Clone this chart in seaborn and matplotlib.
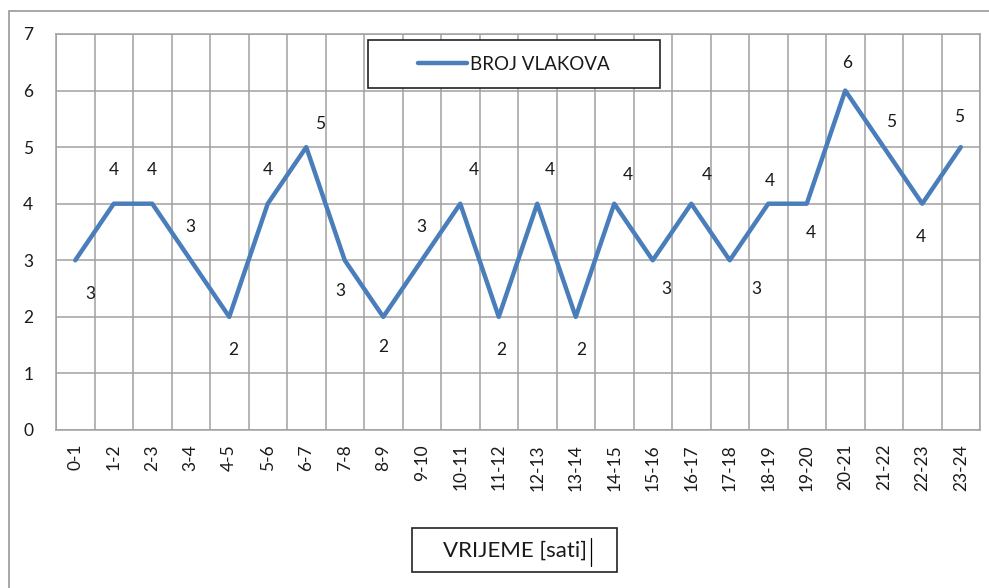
import pandas as pd
import seaborn as sns
import matplotlib.pyplot as plt
from matplotlib.patches import Rectangle
from matplotlib.lines import Line2D

# podaci
sati = ['0-1', '1-2', '2-3', '3-4', '4-5', '5-6', '6-7', '7-8', '8-9', '9-10',
        '10-11', '11-12', '12-13', '13-14', '14-15', '15-16', '16-17', '17-18',
        '18-19', '19-20', '20-21', '21-22', '22-23', '23-24']
broj_vlakova = [3, 4, 4, 3, 2, 4, 5, 3, 2, 3, 4, 2, 4, 2, 4, 3, 4, 3, 4, 4, 6, 5, 4, 5]

# pomaci oznaka (u tockama) - samo stil
pomaci = [(11, -24), (0, 24), (0, 24), (0, 24), (3, -24), (0, 24), (10, 17), (-3, -22),
          (0, -22), (0, 24), (10, 24), (2, -24), (9, 24), (4, -24), (10, 21), (10, -21),
          (11, 21), (19, -21), (1, 16), (3, -21), (1, 20), (5, 18), (-1, -24), (-1, 22)]

df = pd.DataFrame({'sati': sati, 'broj': broj_vlakova})
df['x'] = range(len(df))

sns.set_style('white')
plt.rcParams['font.family'] = ['Lato', 'DejaVu Sans']
tc = '#1a1a1a'

fig = plt.figure(figsize=(9.89, 5.88), dpi=100)
ax = fig.add_axes([56 / 989, 1 - 430 / 588, (980 - 56) / 989, (430 - 34) / 588])

sns.lineplot(data=df, x='x', y='broj', color='#4a7ebb', linewidth=3.2,
             sort=False, ax=ax, legend=False)

for i, (v, d) in enumerate(zip(broj_vlakova, pomaci)):
    ax.annotate(str(v), (i, v), xytext=d, textcoords='offset points',
                ha='center', va='center', fontsize=12.5, color=tc)

ax.set_xlim(-0.5, len(sati) - 0.5)
ax.set_ylim(0, 7)
ax.set_yticks(range(8))
ax.set_xticks(range(len(sati)))
ax.set_xticklabels(sati, rotation=90, fontsize=12.5, color=tc)
ax.set_xticks([i - 0.5 for i in range(len(sati) + 1)], minor=True)
ax.tick_params(axis='y', labelsize=12.5, labelcolor=tc, length=0, pad=20)
ax.tick_params(axis='x', which='both', length=0, pad=10)
ax.grid(True, axis='y', color='#a0a0a0', linewidth=1.1)
ax.grid(True, axis='x', which='minor', color='#a0a0a0', linewidth=1.1)
ax.grid(False, axis='x', which='major')
for s in ax.spines.values():
    s.set_color('#a0a0a0')
    s.set_linewidth(1.1)
ax.set_xlabel('')
ax.set_ylabel('')
for t in ax.get_yticklabels():
    t.set_horizontalalignment('center')

W, H = 989, 588

# vanjski okvir
fig.patches.append(Rectangle((9 / W, -0.1), 1.2, 1 - 11 / H + 0.1, transform=fig.transFigure,
                             fill=False, edgecolor='#a0a0a0', linewidth=1.3))

# legenda
fig.patches.append(Rectangle((368 / W, 1 - 88 / H), 292 / W, 48 / H, transform=fig.transFigure,
                             facecolor='white', edgecolor='#222222', linewidth=1.2, zorder=5))
leg = fig.legend(handles=[Line2D([], [], color='#4a7ebb', linewidth=3.2, solid_capstyle='round')],
                 labels=['BROJ VLAKOVA'], loc='center', frameon=False,
                 bbox_to_anchor=(514 / W, 1 - 64 / H), fontsize=13.5,
                 handlelength=2.6, handletextpad=0.2)
leg.set_zorder(6)
for t in leg.get_texts():
    t.set_color(tc)

# naslov osi x
fig.patches.append(Rectangle((412 / W, 1 - 572 / H), 205 / W, 44 / H, transform=fig.transFigure,
                             facecolor='white', edgecolor='#222222', linewidth=1.2))
fig.text(515 / W, 1 - 551 / H, 'VRIJEME [sati]', ha='center', va='center', fontsize=16, color=tc)
fig.add_artist(Line2D([591 / W, 591 / W], [1 - 538 / H, 1 - 566 / H], transform=fig.transFigure,
                      color='black', linewidth=0.9))

fig.savefig('out.png', dpi=100)
